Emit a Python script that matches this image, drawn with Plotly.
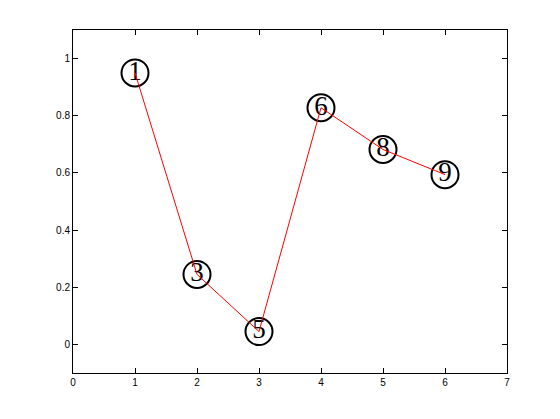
import plotly.graph_objects as go

x_vals = [1, 2, 3, 4, 5, 6]
y_vals = [0.95, 0.245, 0.045, 0.828, 0.682, 0.594]
labels = ["1", "3", "5", "6", "8", "9"]
x_ticks = [0, 1, 2, 3, 4, 5, 6, 7]
y_ticks = [0, 0.2, 0.4, 0.6, 0.8, 1]
y_tick_text = ["0", "0.2", "0.4", "0.6", "0.8", "1"]

fig = go.Figure()
fig.add_trace(go.Scatter(
    x=x_vals, y=y_vals, mode="markers+text", text=labels,
    textposition="middle center",
    textfont=dict(family="Liberation Serif", size=27, color="black"),
    marker=dict(symbol="circle-open", size=27, color="black", line=dict(width=2)),
    hoverinfo="skip", showlegend=False, cliponaxis=False,
))
fig.add_trace(go.Scatter(
    x=x_vals, y=y_vals, mode="lines",
    line=dict(color="red", width=1), showlegend=False,
))

axis_common = dict(
    showgrid=False, zeroline=False, showline=True, linecolor="black", linewidth=1,
    mirror="ticks", ticks="inside", ticklen=5, tickcolor="black", tickwidth=1,
    tickfont=dict(family="Liberation Sans", size=10, color="black"),
)
fig.update_xaxes(range=[0, 7], tickvals=x_ticks, **axis_common)
fig.update_yaxes(range=[-0.1, 1.1], tickvals=y_ticks, ticktext=y_tick_text, **axis_common)

fig.update_layout(
    width=560, height=419,
    margin=dict(l=65, r=61, t=22, b=54),
    paper_bgcolor="white", plot_bgcolor="white",
)
fig.write_html("out.html")
